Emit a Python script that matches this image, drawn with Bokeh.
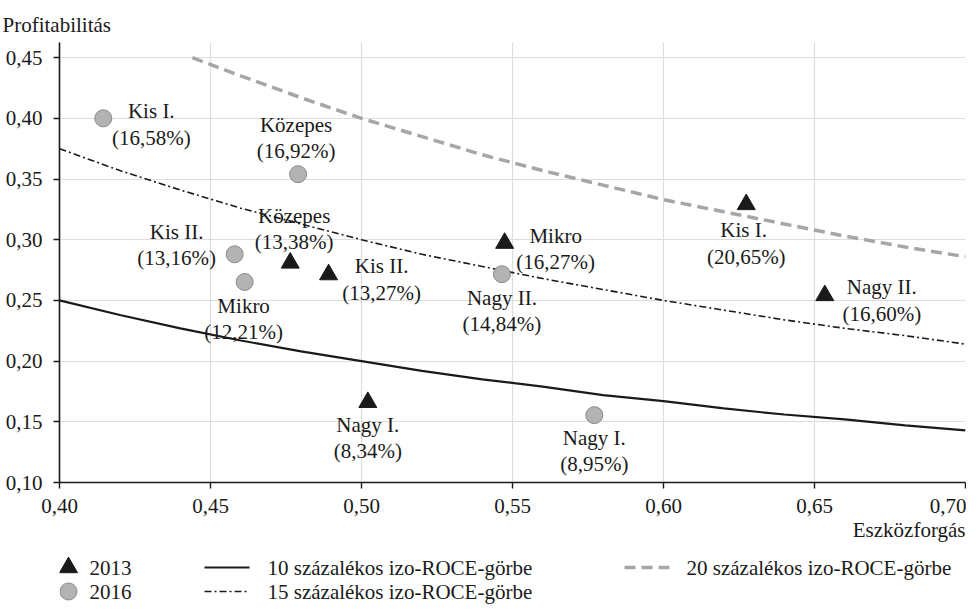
from bokeh.plotting import figure
from bokeh.models import Range1d, FixedTicker, CustomJSTickFormatter, Title
from bokeh.layouts import column
from bokeh.core.properties import value
from bokeh.embed import file_html
from bokeh.resources import INLINE

FONT = "Liberation Serif"
FS = "21px"
INK = "#1a1a1a"

# ---------------- data ----------------
x_ticks = [0.40, 0.45, 0.50, 0.55, 0.60, 0.65, 0.70]
y_ticks = [0.10, 0.15, 0.20, 0.25, 0.30, 0.35, 0.40, 0.45]

# 2013 (triangles)
names_2013 = ["Közepes", "Kis II.", "Mikro", "Nagy I.", "Kis  I.", "Nagy II."]
roce_2013 = ["13,38%", "13,27%", "16,27%", "8,34%", "20,65%", "16,60%"]
x_2013 = [0.4764, 0.4891, 0.5474, 0.5021, 0.6274, 0.6534]
y_2013 = [0.2809, 0.2713, 0.2972, 0.1661, 0.3291, 0.2541]

# 2016 (circles)
names_2016 = ["Kis I.", "Közepes", "Kis II.", "Mikro", "Nagy II.", "Nagy I."]
roce_2016 = ["16,58%", "16,92%", "13,16%", "12,21%", "14,84%", "8,95%"]
x_2016 = [0.4145, 0.4790, 0.4580, 0.4613, 0.5465, 0.5771]
y_2016 = [0.4000, 0.3540, 0.2880, 0.2652, 0.2716, 0.1555]

# iso-ROCE curves
curve_x = [0.40, 0.42, 0.44, 0.46, 0.48, 0.50, 0.52, 0.54, 0.56, 0.58, 0.60, 0.62, 0.64, 0.66, 0.68, 0.70]
roce10_y = [0.250, 0.238, 0.227, 0.217, 0.208, 0.200, 0.192, 0.185, 0.179, 0.172, 0.167, 0.161, 0.156, 0.152, 0.147, 0.143]
roce15_y = [0.375, 0.357, 0.341, 0.326, 0.313, 0.300, 0.288, 0.278, 0.268, 0.259, 0.250, 0.242, 0.234, 0.227, 0.221, 0.214]
roce20_x = [0.444, 0.46, 0.48, 0.50, 0.52, 0.54, 0.56, 0.58, 0.60, 0.62, 0.64, 0.66, 0.68, 0.70]
roce20_y = [0.450, 0.435, 0.417, 0.400, 0.385, 0.370, 0.357, 0.345, 0.333, 0.323, 0.313, 0.303, 0.294, 0.286]

legend_labels = ["2013", "2016", "10 százalékos izo-ROCE-görbe",
                 "15 százalékos izo-ROCE-görbe", "20 százalékos izo-ROCE-görbe"]
x_title = "Eszközforgás"
y_title = "Profitabilitás"

# label placement (pixel offsets from the point, style only)
dx_2013 = [4, 53, 51, 0, 0, 57]
dy_2013 = [-34, 5, 6, 36, 39, 5]
dx_2016 = [48, -2, -58, -1, 0, 0]
dy_2016 = [6, -36, -9, 37, 37, 36]

# ---------------- geometry ----------------
W = 966
BL, BR, BT = 59, 1, 42
FH = 440
BB = 70
HM = BT + FH + BB
HL = 52
FW = W - BL - BR
X0, X1, Y0, Y1 = 0.40, 0.70, 0.10, 0.4625

p = figure(width=W, height=HM, output_backend="svg", toolbar_location=None,
           x_range=Range1d(X0, X1), y_range=Range1d(Y0, Y1),
           min_border_left=BL, min_border_right=BR, min_border_top=BT, min_border_bottom=BB)
p.outline_line_color = None
p.title = Title(text=y_title, align="left", offset=-57, standoff=12,
                text_font=FONT, text_font_size=FS, text_font_style="normal",
                text_color=INK)

fmt = CustomJSTickFormatter(code="return tick.toFixed(2).replace('.', ',');")
for ax, ticks, standoff in ((p.xaxis[0], x_ticks, 10), (p.yaxis[0], y_ticks, 11)):
    ax.ticker = FixedTicker(ticks=ticks)
    ax.formatter = fmt
    ax.axis_line_color = INK
    ax.axis_line_width = 1.6
    ax.major_tick_line_color = INK
    ax.major_tick_line_width = 1.4
    ax.major_tick_out = 6
    ax.major_tick_in = 0
    ax.minor_tick_line_color = None
    ax.major_label_text_font = FONT
    ax.major_label_text_font_size = FS
    ax.major_label_text_color = INK
    ax.major_label_standoff = standoff

# x-axis title, right-aligned under the tick labels
p.add_layout(Title(text=x_title, align="right", standoff=0,
                   text_font=FONT, text_font_size=FS, text_font_style="normal",
                   text_color=INK), "below")

p.xgrid.grid_line_color = "#dddddd"
p.ygrid.grid_line_color = "#dddddd"
p.xgrid.grid_line_width = 1.2
p.ygrid.grid_line_width = 1.2

p.line(curve_x, roce10_y, line_color=INK, line_width=2.2)
p.line(curve_x, roce15_y, line_color=INK, line_width=1.6, line_dash="7 3 2 3")
p.line(roce20_x, roce20_y, line_color="#a6a6a6", line_width=3.5, line_dash="11 6")

p.scatter(x_2016, y_2016, marker="circle", size=17, fill_color="#b3b3b3",
          line_color="#8a8a8a", line_width=1)
p.scatter(x_2013, y_2013, marker="triangle", size=18, fill_color=INK, line_color=INK)

text_2013 = [f"{n}\n({r})" for n, r in zip(names_2013, roce_2013)]
text_2016 = [f"{n}\n({r})" for n, r in zip(names_2016, roce_2016)]
for xs, ys, txt, dx, dy in ((x_2013, y_2013, text_2013, dx_2013, dy_2013),
                            (x_2016, y_2016, text_2016, dx_2016, dy_2016)):
    p.text(x=xs, y=ys, text=txt, x_offset=dx, y_offset=dy,
           text_font=value(FONT), text_font_size=FS, text_color=INK,
           text_align="center", text_baseline="middle", text_line_height=1.1)

# ---------------- legend strip (frame aligned with the main frame) ----------------
lg = figure(width=W, height=HL, output_backend="svg", toolbar_location=None,
            x_range=Range1d(0, FW), y_range=Range1d(HL, 0),
            x_axis_location=None, y_axis_location=None,
            min_border_left=BL, min_border_right=BR, min_border_top=0, min_border_bottom=0)
lg.grid.visible = False
lg.outline_line_color = None

r1, r2 = 15, 39
lg.scatter([9], [r1], marker="triangle", size=18, fill_color=INK, line_color=INK)
lg.scatter([9], [r2], marker="circle", size=17, fill_color="#b3b3b3",
           line_color="#8a8a8a", line_width=1)
lg.line([145, 190], [r1, r1], line_color=INK, line_width=2.2)
lg.line([145, 190], [r2, r2], line_color=INK, line_width=1.6, line_dash="7 3 2 3")
lg.line([565, 610], [r1, r1], line_color="#a6a6a6", line_width=3.5, line_dash="11 6")
lg.text(x=[30, 30, 208, 208, 627], y=[r1, r2, r1, r2, r1], text=legend_labels,
        text_font=value(FONT), text_font_size=FS, text_color=INK,
        text_align="left", text_baseline="middle")

layout = column(p, lg, spacing=0)
open("out.html", "w").write(file_html(layout, INLINE))
